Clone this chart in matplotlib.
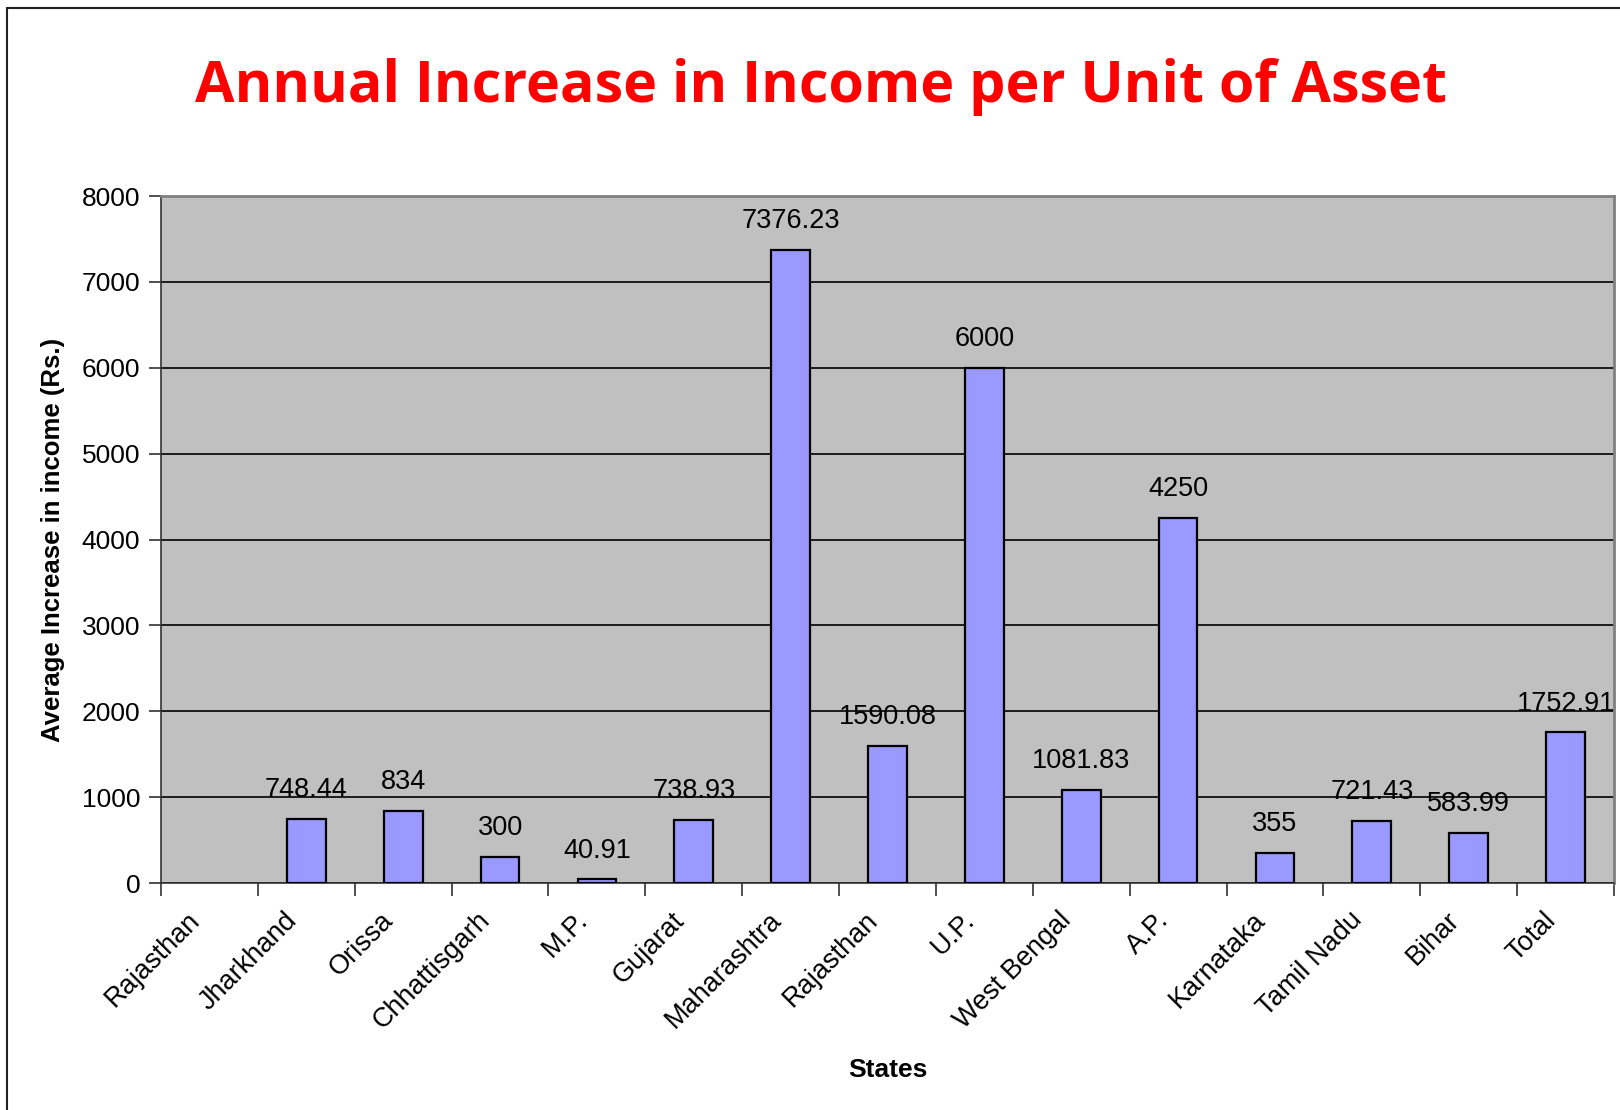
import numpy as np
import matplotlib
matplotlib.use("Agg")
import matplotlib.pyplot as plt
from matplotlib.patches import Rectangle
from matplotlib.transforms import ScaledTranslation

states = ["Rajasthan", "Jharkhand", "Orissa", "Chhattisgarh", "M.P.", "Gujarat",
          "Maharashtra", "Rajasthan", "U.P.", "West Bengal", "A.P.", "Karnataka",
          "Tamil Nadu", "Bihar", "Total"]
income_increase = [np.nan, 748.44, 834, 300, 40.91, 738.93, 7376.23, 1590.08,
                   6000, 1081.83, 4250, 355, 721.43, 583.99, 1752.91]
value_labels = ["", "748.44", "834", "300", "40.91", "738.93", "7376.23", "1590.08",
                "6000", "1081.83", "4250", "355", "721.43", "583.99", "1752.91"]
y_ticks = [0, 1000, 2000, 3000, 4000, 5000, 6000, 7000, 8000]

plt.rcParams["font.family"] = ["Liberation Sans", "DejaVu Sans"]

fig = plt.figure(figsize=(16.2, 11.1), dpi=100)
ax = fig.add_axes([0.0994, 0.2045, 0.8969, 0.6189])

# outer chart frame (left and top edges visible)
fig.patches.append(Rectangle((7 / 1620, -0.05), 1.2, 1 - 8 / 1110 + 0.05,
                             transform=fig.transFigure, fill=False,
                             edgecolor="#222222", linewidth=1.5, zorder=0))

x = np.arange(len(states))
ax.set_facecolor("#C0C0C0")
ax.bar(x, income_increase, width=0.4, color="#9999FF", edgecolor="black",
       linewidth=1.6, zorder=3)

for xi, v, lab in zip(x, income_increase, value_labels):
    if np.isnan(v):
        continue
    ax.annotate(lab, (xi, v), xytext=(0, 11.5), textcoords="offset points",
                ha="center", va="bottom", fontsize=19.5, color="black", zorder=4)

ax.set_xlim(-0.5, len(states) - 0.5)
ax.set_ylim(0, 8000)
ax.set_yticks(y_ticks)
ax.set_yticklabels([str(t) for t in y_ticks], fontsize=19)
ax.yaxis.grid(True, color="black", linewidth=1.2, zorder=1)
ax.set_axisbelow(True)

# category ticks sit between bars; names are placed below each bar slot
ax.set_xticks(np.arange(len(states) + 1) - 0.5)
ax.set_xticklabels([])
name_trans = ax.get_xaxis_transform() + ScaledTranslation(-0.135, -0.333,
                                                          fig.dpi_scale_trans)
for xi, name in zip(x, states):
    ax.text(xi, 0, name, transform=name_trans, rotation=45, ha="right",
            va="center", rotation_mode="anchor", fontsize=19.5, clip_on=False)
ax.tick_params(axis="x", which="major", length=9, width=1.2, color="#333333")
ax.tick_params(axis="y", length=9, width=1.2, color="#333333", pad=6)

for side in ("top", "right"):
    ax.spines[side].set_color("#808080")
    ax.spines[side].set_linewidth(2)
ax.spines["left"].set_color("#333333")
ax.spines["bottom"].set_color("#333333")
ax.spines["left"].set_linewidth(1.2)
ax.spines["bottom"].set_linewidth(1.2)

ax.set_ylabel("Average Increase in income (Rs.)", fontsize=18.5,
              fontweight="bold", labelpad=12)
ax.set_xlabel("States", fontsize=19, fontweight="bold")
ax.xaxis.set_label_coords(0.50, -0.255)

fig.text(0.507, 1 - 102 / 1110, "Annual Increase in Income per Unit of Asset",
         ha="center", va="baseline", fontsize=41.3, fontweight="bold",
         color="#FF0000", family=["Open Sans", "DejaVu Sans"])

fig.savefig("out.png", dpi=100)
